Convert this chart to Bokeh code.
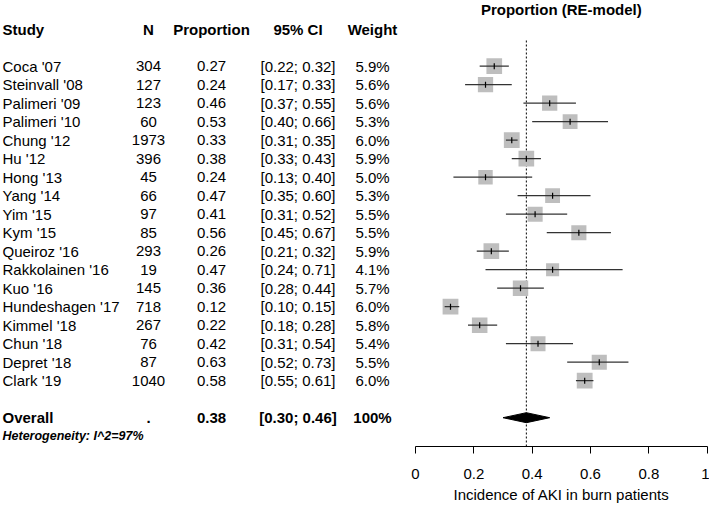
from bokeh.plotting import figure
from bokeh.models import Range1d, FixedTicker, ColumnDataSource
from bokeh.layouts import row
from bokeh.core.properties import value
from bokeh.embed import file_html
from bokeh.resources import INLINE
import math

# ---------------- data ----------------
studies = ["Coca '07", "Steinvall '08", "Palimeri '09", "Palimeri '10", "Chung '12",
           "Hu '12", "Hong '13", "Yang '14", "Yim '15", "Kym '15", "Queiroz '16",
           "Rakkolainen '16", "Kuo '16", "Hundeshagen '17", "Kimmel '18", "Chun '18",
           "Depret '18", "Clark '19"]
n_pat = [304, 127, 123, 60, 1973, 396, 45, 66, 97, 85, 293, 19, 145, 718, 267, 76, 87, 1040]
proportion = [0.27, 0.24, 0.46, 0.53, 0.33, 0.38, 0.24, 0.47, 0.41, 0.56, 0.26, 0.47,
              0.36, 0.12, 0.22, 0.42, 0.63, 0.58]
ci_lower = [0.22, 0.17, 0.37, 0.40, 0.31, 0.33, 0.13, 0.35, 0.31, 0.45, 0.21, 0.24,
            0.28, 0.10, 0.18, 0.31, 0.52, 0.55]
ci_upper = [0.32, 0.33, 0.55, 0.66, 0.35, 0.43, 0.40, 0.60, 0.52, 0.67, 0.32, 0.71,
            0.44, 0.15, 0.28, 0.54, 0.73, 0.61]
weight = [5.9, 5.6, 5.6, 5.3, 6.0, 5.9, 5.0, 5.3, 5.5, 5.5, 5.9, 4.1, 5.7, 6.0, 5.8,
          5.4, 5.5, 6.0]
overall_est = 0.38
overall_lower = 0.30
overall_upper = 0.46
overall_weight = "100%"
i2 = 97
headers = ["Study", "N", "Proportion", "95% CI", "Weight"]
tick_vals = [0, 0.2, 0.4, 0.6, 0.8, 1]
tick_labels = ["0", "0.2", "0.4", "0.6", "0.8", "1"]
x_title = "Incidence of AKI in burn patients"
plot_title = "Proportion (RE-model)"

# ---------------- layout ----------------
FONT = "Liberation Sans"
H = 507
FRAME_H = 446
BOTTOM = H - FRAME_H
ROW0, ROW_H = 65.7, 18.5
LEFT_W = 407
RIGHT_BORDER_L, RIGHT_BORDER_R = 8, 2
RIGHT_W = 709 - LEFT_W
UNIT_PX = 291.7
FRAME_W_R = RIGHT_W - RIGHT_BORDER_L - RIGHT_BORDER_R

y_range = Range1d((FRAME_H - ROW0) / ROW_H, -ROW0 / ROW_H)

# ---- left: table ----
t = figure(width=LEFT_W, height=H, x_range=Range1d(0, LEFT_W), y_range=y_range,
           output_backend="svg", toolbar_location=None,
           x_axis_location=None, y_axis_location=None,
           min_border=0, min_border_bottom=BOTTOM)
t.grid.visible = False
t.outline_line_color = None

rows = list(range(len(studies)))
overall_row = len(studies) + 1
het_row = overall_row + 1

col_x = {"Study": 2, "N": 148, "Proportion": 211, "95% CI": 297.5, "Weight": 372}
col_align = {"Study": "left", "N": "center", "Proportion": "center",
             "95% CI": "center", "Weight": "center"}

def put_text(fig, x, y, txt, align, size="15px", style="normal"):
    fig.text(x=x, y=y, text=txt, text_font=value(FONT), text_font_size=size,
             text_align=align, text_baseline="middle", text_color="black",
             text_font_style=style)

for h in headers:
    put_text(t, [col_x[h]], [-2], [h], col_align[h], style="bold")

cols = {
    "Study": studies,
    "N": [str(v) for v in n_pat],
    "Proportion": [f"{v:.2f}" for v in proportion],
    "95% CI": [f"[{l:.2f}; {u:.2f}]" for l, u in zip(ci_lower, ci_upper)],
    "Weight": [f"{w:.1f}%" for w in weight],
}
for h in headers:
    put_text(t, [col_x[h]] * len(rows), rows, cols[h], col_align[h])

overall_vals = {"Study": "Overall", "N": ".", "Proportion": f"{overall_est:.2f}",
                "95% CI": f"[{overall_lower:.2f}; {overall_upper:.2f}]",
                "Weight": overall_weight}
for h in headers:
    put_text(t, [col_x[h]], [overall_row], [overall_vals[h]], col_align[h], style="bold")

put_text(t, [col_x["Study"]], [het_row], [f"Heterogeneity: I^2={i2}%"], "left",
         size="12.5px", style="bold italic")

# ---- right: forest ----
p = figure(width=RIGHT_W, height=H,
           x_range=Range1d(0, FRAME_W_R / UNIT_PX), y_range=y_range,
           output_backend="svg", toolbar_location=None, y_axis_location=None,
           min_border=0, min_border_left=RIGHT_BORDER_L,
           min_border_right=RIGHT_BORDER_R, min_border_bottom=BOTTOM)
p.grid.visible = False
p.outline_line_color = None

put_text(p, [0.5], [-3.08], [plot_title], "center", style="bold")

p.segment(x0=[overall_est], y0=[-1.39], x1=[overall_est], y1=[y_range.start + 0.2],
          line_color="black", line_width=1, line_dash="2 2")

src = ColumnDataSource(dict(y=rows, est=proportion, lo=ci_lower, hi=ci_upper,
                            size=[6.45 * math.sqrt(w) for w in weight]))
p.scatter(x="est", y="y", size="size", marker="square", source=src,
          fill_color="#BEBEBE", line_color=None)
p.segment(x0="lo", y0="y", x1="hi", y1="y", source=src, line_color="#333333",
          line_width=1.2)
p.scatter(x="est", y="y", size=6, marker="dash", angle=math.pi / 2, source=src,
          line_color="black", line_width=1.2)

dh = 5.0 / ROW_H
p.patch(x=[overall_lower, overall_est, overall_upper, overall_est],
        y=[overall_row, overall_row - dh, overall_row, overall_row + dh],
        fill_color="black", line_color="black", line_width=1)

ax = p.xaxis[0]
ax.bounds = (0, 1)
ax.ticker = FixedTicker(ticks=tick_vals, minor_ticks=[])
ax.major_label_overrides = dict(zip(tick_vals, tick_labels))
ax.axis_label = x_title
ax.axis_line_color = "black"
ax.axis_line_width = 1
ax.major_tick_line_color = "black"
ax.major_tick_out = 7
ax.major_tick_in = 0
ax.minor_tick_out = 0
ax.minor_tick_in = 0
ax.major_label_standoff = 15
ax.axis_label_standoff = 4
ax.major_label_text_font = FONT
ax.major_label_text_font_size = "15px"
ax.major_label_text_color = "black"
ax.axis_label_text_font = FONT
ax.axis_label_text_font_size = "15px"
ax.axis_label_text_font_style = "normal"
ax.axis_label_text_color = "black"

layout = row(t, p, spacing=0)
open("out.html", "w").write(file_html(layout, INLINE))
